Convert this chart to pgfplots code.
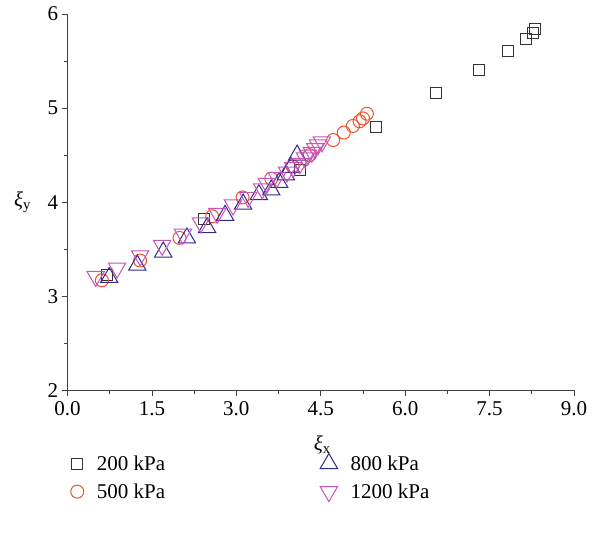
\documentclass[border=0pt]{standalone}
\usepackage{fontspec}
\setmainfont{Liberation Serif}
\usepackage{pgfplots}
\pgfplotsset{compat=1.18}
\usetikzlibrary{calc}
\definecolor{cBlack}{HTML}{333333}
\definecolor{cOrange}{HTML}{F0512A}
\definecolor{cBlue}{HTML}{2F2A8E}
\definecolor{cPink}{HTML}{C855B5}
\begin{document}
\begin{tikzpicture}
\begin{axis}[
  scale only axis, width=506pt, height=376pt,
  xmin=0, xmax=9, ymin=2, ymax=6,
  axis lines*=left, axis line style={line width=0.8pt, draw=black!75},
  xtick={0,1.5,...,9}, ytick={2,3,4,5,6},
  minor x tick num=1, minor y tick num=1,
  tick align=outside, tick style={line width=0.8pt, draw=black!75},
  major tick length=6pt, minor tick length=3.5pt,
  xticklabel style={/pgf/number format/fixed,/pgf/number format/fixed zerofill,/pgf/number format/precision=1, yshift=-2pt},
  /pgf/number format/assume math mode=true,
  ticklabel style={font=\fontsize{21}{23}\selectfont},
  xlabel={\textit{ξ}\textsubscript{x}}, ylabel={\textit{ξ}\textsubscript{y}},
  label style={font=\fontsize{21}{23}\selectfont},
  xlabel style={at={(axis description cs:0.503,0)}, anchor=center, yshift=-55pt},
  ylabel style={rotate=-90, at={(axis description cs:0,0.5)}, anchor=center, xshift=-45pt},
  legend columns=2,
  legend style={draw=none, fill=none, at={(axis description cs:0.0,-0.162)}, anchor=north west,
    font=\fontsize{21}{23}\selectfont, row sep=8pt,
    /tikz/every odd column/.append style={column sep=11pt},
    /tikz/every even column/.append style={column sep=153pt}},
  legend cell align=left,
]
\addlegendimage{only marks, mark=square, mark size=5.5pt, draw=cBlack, line width=1pt}
\addlegendentry{200 kPa}
\addlegendimage{only marks, mark=triangle, mark size=10pt, draw=cBlue, line width=1pt}
\addlegendentry{800 kPa}
\addlegendimage{only marks, mark=o, mark size=6.5pt, draw=cOrange, line width=1pt}
\addlegendentry{500 kPa}
\addlegendimage{only marks, mark=triangle, mark size=10pt, mark options={rotate=180}, draw=cPink, line width=1pt}
\addlegendentry{1200 kPa}

\addplot[forget plot, only marks, mark=square, mark size=5.5pt, draw=cBlack, line width=1pt] coordinates {
(0.70,3.23) (2.42,3.82) (4.13,4.34) (5.48,4.80) (6.54,5.16) (7.31,5.41) (7.83,5.61) (8.14,5.73) (8.27,5.80) (8.30,5.84)};
\addplot[forget plot, only marks, mark=o, mark size=6.5pt, draw=cOrange, line width=1pt] coordinates {
(0.61,3.17) (1.29,3.38) (1.99,3.62) (2.57,3.85) (3.11,4.05) (3.62,4.25) (4.00,4.38) (4.30,4.50) (4.72,4.66) (4.91,4.74) (5.07,4.81) (5.19,4.86) (5.25,4.89) (5.32,4.94)};
\addplot[forget plot, only marks, mark=triangle, mark size=10pt, draw=cBlue, line width=1pt] coordinates {
(0.74,3.20) (1.24,3.33) (1.70,3.47) (2.12,3.62) (2.48,3.73) (2.80,3.86) (3.12,3.98) (3.40,4.08) (3.62,4.13) (3.76,4.21) (3.88,4.29) (3.97,4.37) (4.08,4.50)};
\addplot[forget plot, only marks, mark=triangle, mark size=10pt, mark options={rotate=180}, draw=cPink, line width=1pt] coordinates {
(0.50,3.21) (0.88,3.30) (1.29,3.43) (1.68,3.54) (2.05,3.66) (2.37,3.78) (2.66,3.88) (2.94,3.97) (3.21,4.05) (3.46,4.14) (3.54,4.20) (3.72,4.26) (3.90,4.32) (4.01,4.37) (4.13,4.41) (4.22,4.47) (4.27,4.50) (4.34,4.53) (4.40,4.57) (4.45,4.61) (4.52,4.64)};
\end{axis}
\pgfresetboundingbox
\path ($(current axis.south west)+(-67.5pt,-143pt)$) rectangle ($(current axis.north east)+(23pt,14pt)$);
\end{tikzpicture}
\end{document}
